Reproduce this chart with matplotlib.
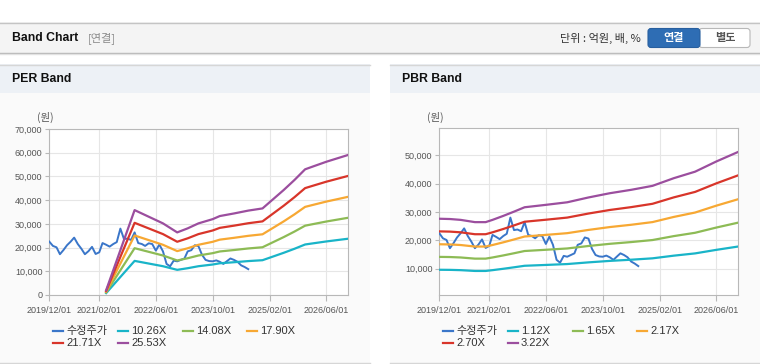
import matplotlib
matplotlib.use('Agg')
import matplotlib.pyplot as plt
import matplotlib.dates as mdates
from matplotlib.patches import Rectangle, FancyBboxPatch
from matplotlib.lines import Line2D
from matplotlib.ticker import FuncFormatter
import pandas as pd

plt.rcParams['font.family'] = ['Liberation Sans', 'Noto Sans CJK KR', 'DejaVu Sans']

# ---------------- data ----------------
price_start = '2019-12-01'
price_values = [22500, 20700, 20100, 17200, 19000, 21000, 22500, 24200, 21500, 19500,
                17200, 18500, 20300, 17300, 18000, 21900, 21200, 20400, 21500, 22300,
                28000, 23600, 23800, 23200, 26400, 21900, 21500, 20700, 21800, 21500,
                18700, 21300, 18400, 13100, 12100, 14500, 14200, 14800, 15400, 18400,
                18900, 21000, 20600, 17000, 14800, 14300, 14200, 14600, 14000, 13100,
                14300, 15400, 14800, 14000, 12500, 11800, 10900]
price_label = '수정주가'

per_multiples = [10.26, 14.08, 17.90, 21.71, 25.53]
per_labels = ['10.26X', '14.08X', '17.90X', '21.71X', '25.53X']
eps_dates = ['2021-04-01', '2021-12-01', '2022-04-01', '2022-08-01', '2022-12-01',
             '2023-03-01', '2023-06-01', '2023-10-01', '2023-12-01', '2024-04-01',
             '2024-08-01', '2024-12-01', '2025-06-01', '2025-09-01', '2025-12-01',
             '2026-02-01', '2026-06-01', '2026-12-01']
eps_values = [78, 1402, 1293, 1183, 1034, 1101, 1183, 1253, 1304, 1347,
              1394, 1430, 1735, 1900, 2076, 2119, 2201, 2311]

pbr_multiples = [1.12, 1.65, 2.17, 2.70, 3.22]
pbr_labels = ['1.12X', '1.65X', '2.17X', '2.70X', '3.22X']
bps_dates = ['2019-12-01', '2020-03-01', '2020-06-01', '2020-10-01', '2021-01-01',
             '2021-03-01', '2021-06-01', '2021-09-01', '2021-12-01', '2022-06-01',
             '2022-12-01', '2023-06-01', '2023-12-01', '2024-06-01', '2024-12-01',
             '2025-06-01', '2025-12-01', '2026-06-01', '2026-12-01']
bps_values = [8571, 8540, 8447, 8199, 8199, 8447, 8882, 9348, 9829, 10093,
              10373, 10901, 11366, 11739, 12174, 13012, 13727, 14845, 15870]

x_ticks = ['2019-12-01', '2021-02-01', '2022-06-01', '2023-10-01', '2025-02-01', '2026-06-01']
x_range = ['2019-12-01', '2026-12-01']

price_color = '#3a76c9'
band_colors = ['#19b4c8', '#8dbb55', '#f7a833', '#d8352a', '#9b4e9e']

# ---------------- figure ----------------
W, H = 760, 364
fig = plt.figure(figsize=(W / 100, H / 100), dpi=100)
bg = fig.add_axes([0, 0, 1, 1], zorder=0)
bg.set_xlim(0, W)
bg.set_ylim(H, 0)
bg.axis('off')

# header bar
bg.add_patch(Rectangle((0, 22), W, 31, fc='#f4f4f4', ec='none'))
bg.plot([0, W], [22.5, 22.5], color='#c4c4c4', lw=1)
bg.plot([0, W], [53, 53], color='#b4b4b4', lw=1)
bg.plot([0, W], [54.2, 54.2], color='#e2e2e2', lw=1)
bg.text(12, 38, 'Band Chart', fontsize=8.8, fontweight='bold', color='#111', va='center')
bg.text(88, 38, '[연결]', fontsize=8, color='#8a8a8a', va='center',
        family=['Noto Sans CJK KR', 'DejaVu Sans'])
bg.text(641, 38, '단위 : 억원, 배, %', fontsize=8, color='#333', va='center', ha='right',
        family=['Noto Sans CJK KR', 'DejaVu Sans'])
bg.add_patch(FancyBboxPatch((699, 28.5), 51, 19, boxstyle='round,pad=0,rounding_size=3',
                            fc='white', ec='#b8b8b8', lw=0.8))
bg.add_patch(FancyBboxPatch((648, 28.5), 52, 19, boxstyle='round,pad=0,rounding_size=3',
                            fc='#2e6db4', ec='#285f9f', lw=0.8))
bg.text(674, 38, '연결', fontsize=8, color='white', fontweight='bold', ha='center', va='center',
        family=['Noto Sans CJK KR', 'DejaVu Sans'])
bg.text(725, 38, '별도', fontsize=8, color='#555', fontweight='bold', ha='center', va='center',
        family=['Noto Sans CJK KR', 'DejaVu Sans'])

# panels
for ox, title in [(0, 'PER Band'), (390, 'PBR Band')]:
    bg.add_patch(Rectangle((ox, 64), 370, 299, fc='#fafafa', ec='none'))
    bg.add_patch(Rectangle((ox, 64), 370, 29, fc='#edf1f6', ec='none'))
    bg.plot([ox, ox + 370], [64.5, 64.5], color='#d6d6d6', lw=1)
    bg.plot([ox, ox + 370], [362.5, 362.5], color='#d6d6d6', lw=1)
    bg.text(ox + 12, 79, title, fontsize=8.8, fontweight='bold', color='#111', va='center')
    bg.text(ox + 45, 117, '(원)', fontsize=7.5, color='#555', ha='center', va='center',
            family=['Noto Sans CJK KR', 'DejaVu Sans'])

price_dates = pd.date_range(price_start, periods=len(price_values), freq='MS')
tick_dates = pd.to_datetime(x_ticks)
xr = pd.to_datetime(x_range)


def style(ax, ylim, yticks):
    ax.set_facecolor('white')
    ax.set_xlim(xr[0], xr[1])
    ax.set_ylim(*ylim)
    ax.set_yticks(yticks)
    ax.set_xticks(tick_dates)
    ax.xaxis.set_major_formatter(mdates.DateFormatter('%Y/%m/%d'))
    ax.yaxis.set_major_formatter(FuncFormatter(lambda v, p: f'{int(v):,}'))
    for s in ax.spines.values():
        s.set_color('#b8b8b8')
        s.set_linewidth(0.8)
    ax.grid(True, color='#e6e6e6', lw=0.8)
    ax.set_axisbelow(True)
    ax.tick_params(axis='both', labelsize=6.5, labelcolor='#555', color='#b8b8b8', width=0.8)
    ax.tick_params(axis='x', length=4, pad=4)
    ax.tick_params(axis='y', length=3, pad=2)


ax1 = fig.add_axes([49.3 / W, 1 - 295 / H, (347.7 - 49.3) / W, (295 - 129) / H], zorder=2)
ax1.plot(price_dates, price_values, color=price_color, lw=1.4, zorder=3)
ed = pd.to_datetime(eps_dates)
for m, c in zip(per_multiples, band_colors):
    ax1.plot(ed, [m * v for v in eps_values], color=c, lw=1.6, zorder=4)
style(ax1, (0, 70000), range(0, 70001, 10000))

ax2 = fig.add_axes([439.3 / W, 1 - 295 / H, (737.7 - 439.3) / W, (295 - 128.3) / H], zorder=2)
ax2.plot(price_dates, price_values, color=price_color, lw=1.4, zorder=3)
bd = pd.to_datetime(bps_dates)
for m, c in zip(pbr_multiples, band_colors):
    ax2.plot(bd, [m * v for v in bps_values], color=c, lw=1.6, zorder=4)
style(ax2, (700, 59500), range(10000, 50001, 10000))

# legends (row-major layout)
for ox, labels in [(0, per_labels), (390, pbr_labels)]:
    items = [(price_label, price_color)] + list(zip(labels, band_colors))
    slots = [(53, 330.7), (118, 330.7), (183, 330.7), (247, 330.7), (53, 343.3), (118, 343.3)]
    for (lab, col), (hx, hy) in zip(items, slots):
        bg.add_line(Line2D([ox + hx, ox + hx + 10], [hy, hy], color=col, lw=1.6))
        bg.text(ox + hx + 13, hy, lab, fontsize=8, color='#333', va='center',
                family=['Liberation Sans', 'Noto Sans CJK KR', 'DejaVu Sans'])

fig.savefig('out.png', dpi=100)
